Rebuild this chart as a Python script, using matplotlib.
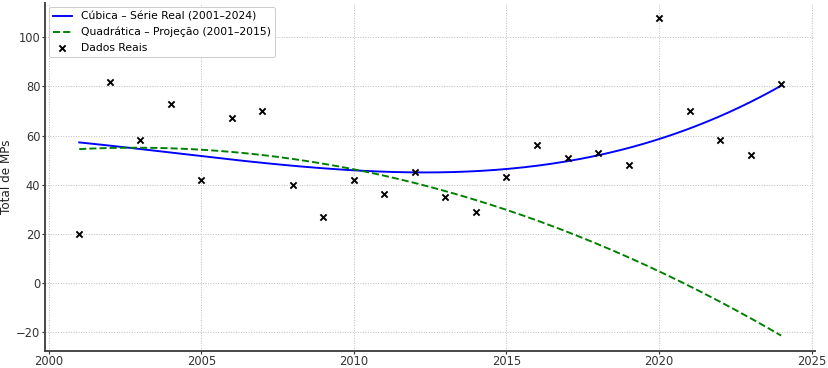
import numpy as np
import matplotlib
matplotlib.use("Agg")
import matplotlib.pyplot as plt

years = [2001, 2002, 2003, 2004, 2005, 2006, 2007, 2008, 2009, 2010, 2011, 2012,
         2013, 2014, 2015, 2016, 2017, 2018, 2019, 2020, 2021, 2022, 2023, 2024]
values = [20, 82, 58, 73, 42, 67, 70, 40, 27, 42, 36, 45,
          35, 29, 43, 56, 51, 53, 48, 108, 70, 58, 52, 81]
proj_end = 2015

x = np.array(years, dtype=float)
y = np.array(values, dtype=float)

cubic = np.poly1d(np.polyfit(x - 2000, y, 3))
mask = x <= proj_end
quad = np.poly1d(np.polyfit(x[mask] - 2000, y[mask], 2))

xs = np.linspace(x.min(), x.max(), 200)

fig = plt.figure(figsize=(12, 368 / 69), dpi=69)
ax = fig.add_axes([0.054, 0.046, 0.93, 0.946])

ax.plot(xs, cubic(xs - 2000), color="blue", lw=2.0, label="Cúbica – Série Real (2001–2024)")
ax.plot(xs, quad(xs - 2000), color="green", lw=2.0, ls="--", label="Quadrática – Projeção (2001–2015)")
ax.scatter(x, y, marker="x", color="black", s=42, linewidths=2.0, label="Dados Reais", zorder=3)

ax.set_xlim(1999.87, 2025.1)
ax.set_ylim(-27.8, 114)
ax.set_xticks([2000, 2005, 2010, 2015, 2020, 2025])
ax.set_yticks([-20, 0, 20, 40, 60, 80, 100])
ax.set_ylabel("Total de MPs", fontsize=12.5, color="#222222", labelpad=3)
ax.grid(True, ls=":", color="#bbbbbb", lw=1.0)
for s in ["top", "right"]:
    ax.spines[s].set_visible(False)
for s in ["left", "bottom"]:
    ax.spines[s].set_color("#444444")
    ax.spines[s].set_linewidth(2.0)
ax.tick_params(labelsize=12, colors="#333333", length=3, width=1.2, pad=1.5)
ax.legend(loc="upper left", fontsize=11.2, frameon=True, framealpha=1, edgecolor="#cccccc",
          borderaxespad=0.4, handlelength=1.7, handletextpad=0.9)

fig.savefig("out.png", dpi=69)
